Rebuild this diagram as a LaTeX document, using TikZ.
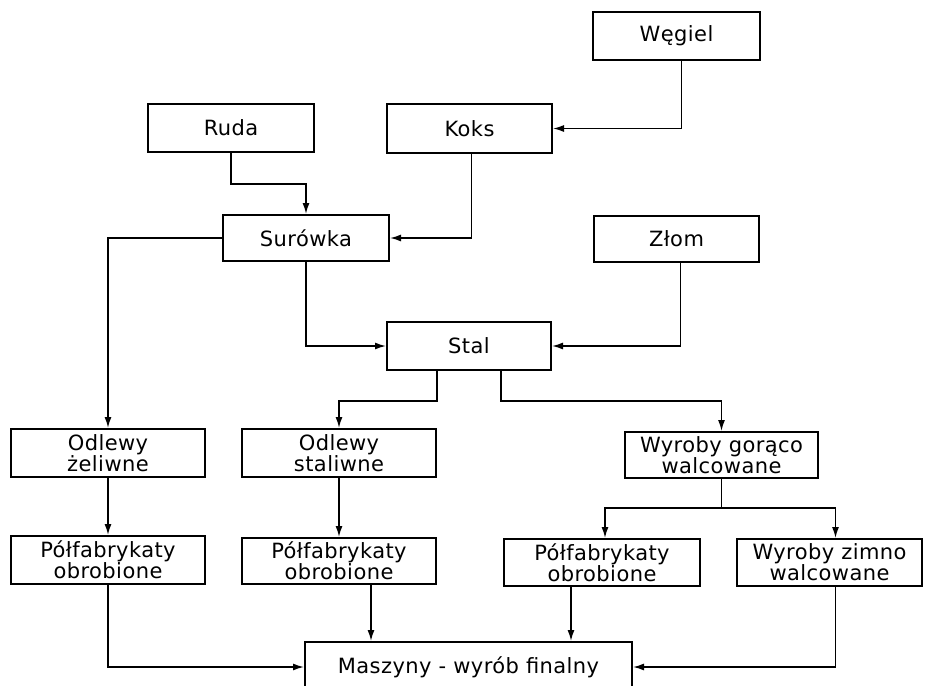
\documentclass[tikz,border=0pt]{standalone}
\usepackage{fontspec}
\setmainfont[LetterSpace=2]{DejaVu Sans}
\usetikzlibrary{arrows.meta}
\begin{document}
\begin{tikzpicture}[x=1pt,y=-1pt,
  box/.style={draw,line width=2pt,inner sep=0pt,align=center,
    font=\fontsize{21}{18}\selectfont},
  conn/.style={line width=1.5pt},
  arr/.style={conn,-{Latex[length=11pt,width=7pt]}}]
\useasboundingbox (0,0) rectangle (930,686);
\clip (0,0) rectangle (930,686);
\node[box,minimum width=167pt,minimum height=48pt] (wegiel) at (676.5,36) {Węgiel};
\node[box,minimum width=165pt,minimum height=49pt] (koks) at (469.5,128.5) {Koks};
\node[box,minimum width=166pt,minimum height=48pt] (ruda) at (231,128) {Ruda};
\node[box,minimum width=166pt,minimum height=46pt] (surowka) at (306,238) {Surówka};
\node[box,minimum width=165pt,minimum height=46pt] (zlom) at (676.5,239) {Złom};
\node[box,minimum width=164pt,minimum height=48pt] (stal) at (469,346) {Stal};
\node[box,minimum width=194pt,minimum height=48pt] (zel) at (108,453) {Odlewy\\żeliwne};
\node[box,minimum width=194pt,minimum height=48pt] (stali) at (339,453) {Odlewy\\staliwne};
\node[box,minimum width=193pt,minimum height=46pt] (goraco) at (721.5,455) {Wyroby gorąco\\walcowane};
\node[box,minimum width=194pt,minimum height=48pt] (p1) at (108,560) {Półfabrykaty\\obrobione};
\node[box,minimum width=194pt,minimum height=46pt] (p2) at (339,561) {Półfabrykaty\\obrobione};
\node[box,minimum width=196pt,minimum height=47pt] (p3) at (602,562.5) {Półfabrykaty\\obrobione};
\node[box,minimum width=185pt,minimum height=47pt] (zimno) at (829.5,562.5) {Wyroby zimno\\walcowane};
\node[box,minimum width=327pt,minimum height=50pt] (maszyny) at (468.5,667) {Maszyny - wyrób finalny};
% connectors
\draw[arr] ([xshift=5pt]wegiel.south) |- (koks.east);
\draw[arr] ([xshift=2pt]koks.south) |- (surowka.east);
\draw[arr] (ruda.south) -- ++(0,31) -| (surowka.north);
\draw[arr] (surowka.west) -| (zel.north);
\draw[arr] (surowka.south) |- (stal.west);
\draw[arr] ([xshift=4pt]zlom.south) |- (stal.east);
\draw[arr] ([xshift=32pt]stal.south) -- ++(0,30) -| (goraco.north);
\draw[arr] ([xshift=-32pt]stal.south) -- ++(0,30) -| (stali.north);
\draw[conn] (goraco.south) -- ++(0,29) coordinate (g);
\draw[arr] (g) -| ([xshift=3pt]p3.north);
\draw[arr] (g) -| ([xshift=6pt]zimno.north);
\draw[arr] (zel) -- (p1);
\draw[arr] (stali) -- (p2);
\draw[arr] (p1.south) |- (maszyny.west);
\draw[arr] ([xshift=32pt]p2.south) -- ([xshift=32pt]p2.south |- maszyny.north);
\draw[arr] ([xshift=-31pt]p3.south) -- ([xshift=-31pt]p3.south |- maszyny.north);
\draw[arr] ([xshift=6pt]zimno.south) |- (maszyny.east);
\end{tikzpicture}
\end{document}
